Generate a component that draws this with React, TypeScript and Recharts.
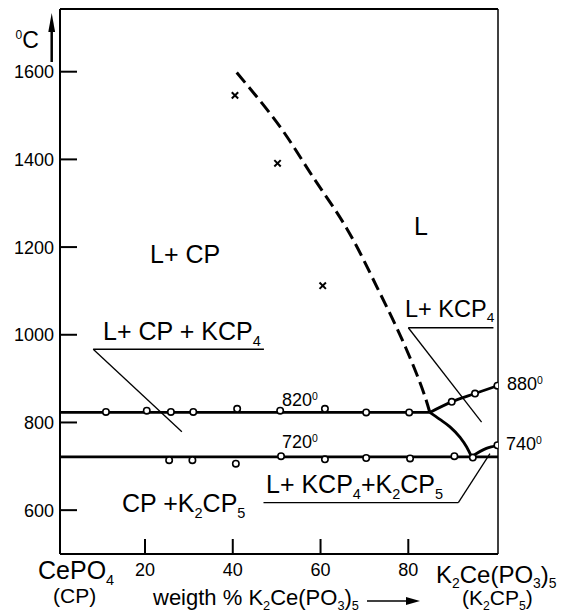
import { ComposedChart, Line, Scatter, XAxis, YAxis, ReferenceLine } from 'recharts'

// axis ranges (weight % K2Ce(PO3)5, temperature in degC)
const X_MIN = 0.63
const X_MAX = 100.44
const T_MIN = 500
const T_MAX = 1743

const X_TICKS = [20, 40, 60, 80]
const T_TICKS = [600, 800, 1000, 1200, 1400, 1600]

// dashed liquidus of CePO4
const cpLiquidus = [
  { x: 40.9, t: 1598 },
  { x: 50.8, t: 1474 },
  { x: 58.4, t: 1358 },
  { x: 66.0, t: 1242 },
  { x: 72.8, t: 1110 },
  { x: 78.1, t: 1000 },
  { x: 82.7, t: 890 },
  { x: 84.9, t: 823 },
]

const eutectic820 = [
  { x: X_MIN, t: 823 },
  { x: 84.9, t: 823 },
]

const eutectic720 = [
  { x: X_MIN, t: 721.5 },
  { x: X_MAX, t: 721.5 },
]

const kcp4Liquidus = [
  { x: 84.9, t: 823 },
  { x: 89.9, t: 847 },
  { x: 95.2, t: 866 },
  { x: 100.4, t: 884 },
]

const kcp4Lower = [
  { x: 84.9, t: 823 },
  { x: 87.2, t: 807 },
  { x: 89.5, t: 790 },
  { x: 91.8, t: 766 },
  { x: 93.3, t: 744 },
  { x: 94.4, t: 722 },
]

const k2cp5Liquidus = [
  { x: 94.4, t: 722 },
  { x: 97.8, t: 741 },
  { x: 100.4, t: 747 },
]

// measured points
const upperPts = [
  { x: 11.1, t: 824 },
  { x: 20.4, t: 827 },
  { x: 25.9, t: 824 },
  { x: 31.0, t: 824 },
  { x: 41.0, t: 831 },
  { x: 50.8, t: 827 },
  { x: 61.0, t: 831 },
  { x: 70.4, t: 823 },
  { x: 80.2, t: 823 },
  { x: 89.9, t: 847 },
  { x: 95.2, t: 866 },
  { x: 100.3, t: 884 },
]

const lowerPts = [
  { x: 25.5, t: 714 },
  { x: 30.8, t: 714 },
  { x: 40.7, t: 706 },
  { x: 51.0, t: 723 },
  { x: 61.0, t: 716 },
  { x: 70.4, t: 719 },
  { x: 80.4, t: 718 },
  { x: 90.5, t: 723 },
  { x: 94.7, t: 720 },
  { x: 100.3, t: 748 },
]

const crossPts = [
  { x: 40.5, t: 1546 },
  { x: 50.2, t: 1391 },
  { x: 60.5, t: 1112 },
]

// leader lines of the field labels, in data units
const LEADERS = [
  [{ x: 8.2, y: 967 }, { x: 47.1, y: 967 }],
  [{ x: 8.2, y: 967 }, { x: 28.4, y: 779 }],
  [{ x: 80.0, y: 1016 }, { x: 99.4, y: 1016 }],
  [{ x: 80.0, y: 1016 }, { x: 96.7, y: 801 }],
  [{ x: 47.0, y: 617 }, { x: 91.4, y: 617 }],
  [{ x: 91.4, y: 617 }, { x: 98.6, y: 729 }],
]

const FONT = '"Liberation Sans", Arial, sans-serif'
const Y_MARGIN = 6
const X_MARGIN = 9

function YTick({ x, y, payload }: any) {
  return (
    <g>
      <line x1={x + Y_MARGIN} x2={x + Y_MARGIN + 17} y1={y} y2={y} stroke="#000" strokeWidth={2} />
      <text x={x} y={y} dy="0.36em" textAnchor="end" fontSize={18} fontFamily={FONT} fill="#000">
        {payload.value}
      </text>
    </g>
  )
}

function XTick({ x, y, payload }: any) {
  return (
    <g>
      <line x1={x} x2={x} y1={y - X_MARGIN} y2={y - X_MARGIN - 15} stroke="#000" strokeWidth={2} />
      <text x={x} y={y} dy="0.71em" textAnchor="middle" fontSize={18} fontFamily={FONT} fill="#000">
        {payload.value}
      </text>
    </g>
  )
}

function OpenCircle({ cx, cy }: any) {
  return <circle cx={cx} cy={cy} r={3.2} fill="#fff" stroke="#000" strokeWidth={1.6} />
}

function Cross({ cx, cy }: any) {
  const d = 3.2
  return (
    <g stroke="#000" strokeWidth={2}>
      <line x1={cx - d} y1={cy - d} x2={cx + d} y2={cy + d} />
      <line x1={cx - d} y1={cy + d} x2={cx + d} y2={cy - d} />
    </g>
  )
}

type Seg = [string, 'n' | 'sub' | 'sup']

function Rich({ x, y, size, segs }: { x: number; y: number; size: number; segs: Seg[] }) {
  let shift = 0
  return (
    <text x={x} y={y} fontSize={size} fontFamily={FONT} fill="#000">
      {segs.map(([s, k], i) => {
        const off = k === 'sub' ? size * 0.22 : k === 'sup' ? -size * 0.36 : 0
        const dy = off - shift
        shift = off
        return (
          <tspan key={i} dy={dy} fontSize={k === 'n' ? size : size * 0.58}>
            {s}
          </tspan>
        )
      })}
    </text>
  )
}

function Labels() {
  return (
    <svg width={572} height={614} style={{ position: 'absolute', left: 0, top: 0, pointerEvents: 'none' }}>
      {/* temperature axis title and arrow */}
      <text x={15.5} y={48} fontFamily={FONT} fill="#000">
        <tspan fontSize={12} dy={-9.5}>0</tspan>
        <tspan fontSize={23} dy={9.5}>C</tspan>
      </text>
      <line x1={51.7} x2={51.7} y1={62} y2={28} stroke="#000" strokeWidth={2.5} />
      <polygon points="51.7,13 48.3,32 55.1,32" fill="#000" />

      <Rich x={150} y={263} size={25} segs={[['L+ CP', 'n']]} />
      <Rich x={414} y={235} size={25} segs={[['L', 'n']]} />
      <Rich x={103} y={340} size={25} segs={[['L+ CP + KCP', 'n'], ['4', 'sub']]} />
      <Rich x={405} y={317} size={23.5} segs={[['L+ KCP', 'n'], ['4', 'sub']]} />
      <Rich
        x={266}
        y={493}
        size={25}
        segs={[['L+ KCP', 'n'], ['4', 'sub'], ['+K', 'n'], ['2', 'sub'], ['CP', 'n'], ['5', 'sub']]}
      />
      <Rich x={122} y={512} size={25} segs={[['CP +K', 'n'], ['2', 'sub'], ['CP', 'n'], ['5', 'sub']]} />

      <Rich x={282} y={406} size={18} segs={[['820', 'n'], ['0', 'sup']]} />
      <Rich x={282} y={448} size={18} segs={[['720', 'n'], ['0', 'sup']]} />
      <Rich x={507} y={390} size={18} segs={[['880', 'n'], ['0', 'sup']]} />
      <Rich x={506} y={450} size={18} segs={[['740', 'n'], ['0', 'sup']]} />

      {/* composition axis */}
      <Rich x={38} y={579} size={25} segs={[['CePO', 'n'], ['4', 'sub']]} />
      <Rich x={53} y={603} size={21} segs={[['(CP)', 'n']]} />
      <Rich
        x={153}
        y={605}
        size={22}
        segs={[['weigth % K', 'n'], ['2', 'sub'], ['Ce(PO', 'n'], ['3', 'sub'], [')', 'n'], ['5', 'sub']]}
      />
      <line x1={367} x2={408} y1={601} y2={601} stroke="#000" strokeWidth={1.5} />
      <polygon points="420,601 406,597 406,605" fill="#000" />
      <Rich
        x={436}
        y={583}
        size={24}
        segs={[['K', 'n'], ['2', 'sub'], ['Ce(PO', 'n'], ['3', 'sub'], [')', 'n'], ['5', 'sub']]}
      />
      <Rich x={462} y={605} size={21} segs={[['(K', 'n'], ['2', 'sub'], ['CP', 'n'], ['5', 'sub'], [')', 'n']]} />
    </svg>
  )
}

export default function App() {
  return (
    <div style={{ position: 'absolute', left: 0, top: 0, width: 572, height: 614, background: '#fff', fontFamily: FONT }}>
      <ComposedChart width={572} height={614} margin={{ top: 9, right: 74, left: 0, bottom: 0 }}>
        <XAxis
          dataKey="x"
          type="number"
          domain={[X_MIN, X_MAX]}
          allowDataOverflow
          ticks={X_TICKS}
          interval={0}
          height={60}
          tickSize={0}
          tickLine={false}
          tickMargin={X_MARGIN}
          tick={<XTick />}
          axisLine={{ stroke: '#000', strokeWidth: 2 }}
        />
        <YAxis
          dataKey="t"
          type="number"
          domain={[T_MIN, T_MAX]}
          allowDataOverflow
          ticks={T_TICKS}
          interval={0}
          width={60}
          tickSize={0}
          tickLine={false}
          tickMargin={Y_MARGIN}
          tick={<YTick />}
          axisLine={{ stroke: '#000', strokeWidth: 2 }}
        />
        <ReferenceLine y={T_MAX} stroke="#000" strokeWidth={2} />
        <ReferenceLine x={X_MAX} stroke="#000" strokeWidth={1.5} />
        {LEADERS.map((seg, i) => (
          <ReferenceLine key={i} segment={seg} stroke="#000" strokeWidth={1.3} />
        ))}

        <Line data={cpLiquidus} dataKey="t" type="natural" stroke="#000" strokeWidth={3} strokeDasharray="13 6" dot={false} activeDot={false} isAnimationActive={false} />
        <Line data={eutectic820} dataKey="t" type="linear" stroke="#000" strokeWidth={2.8} dot={false} activeDot={false} isAnimationActive={false} />
        <Line data={eutectic720} dataKey="t" type="linear" stroke="#000" strokeWidth={2.8} dot={false} activeDot={false} isAnimationActive={false} />
        <Line data={kcp4Liquidus} dataKey="t" type="monotone" stroke="#000" strokeWidth={2.8} dot={false} activeDot={false} isAnimationActive={false} />
        <Line data={kcp4Lower} dataKey="t" type="monotone" stroke="#000" strokeWidth={2.8} dot={false} activeDot={false} isAnimationActive={false} />
        <Line data={k2cp5Liquidus} dataKey="t" type="monotone" stroke="#000" strokeWidth={2.8} dot={false} activeDot={false} isAnimationActive={false} />

        <Scatter data={upperPts} dataKey="t" shape={<OpenCircle />} isAnimationActive={false} />
        <Scatter data={lowerPts} dataKey="t" shape={<OpenCircle />} isAnimationActive={false} />
        <Scatter data={crossPts} dataKey="t" shape={<Cross />} isAnimationActive={false} />
      </ComposedChart>
      <Labels />
    </div>
  )
}
